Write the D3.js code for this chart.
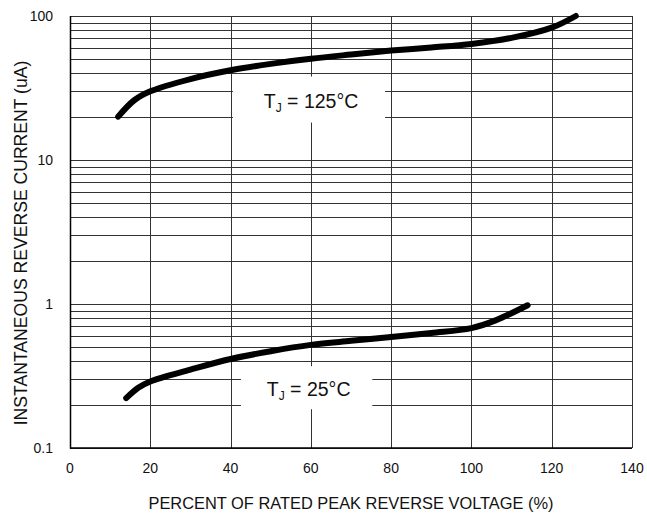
<!DOCTYPE html>
<html>
<head>
<meta charset="utf-8">
<script src="https://cdn.jsdelivr.net/npm/d3@7"></script>
<style>
  body { margin: 0; background: #fff; }
  svg { font-family: "Liberation Sans", Arial, sans-serif; }
</style>
</head>
<body>
<svg width="647" height="516"></svg>
<script>
// Reverse current vs percent of rated peak reverse voltage
const xTicks = [0, 20, 40, 60, 80, 100, 120, 140];
const yTicks = [0.1, 1, 10, 100];
const yTickLabels = ["0.1", "1", "10", "100"];

const pct125 = [12, 16, 20, 30, 40, 50, 60, 70, 80, 90, 100, 110, 120, 126];
const cur125 = [20, 26, 30, 36.5, 42, 46.5, 50.5, 54, 57.5, 60.5, 64, 70.5, 83, 100];

const pct25 = [14, 17, 20, 30, 40, 50, 60, 70, 80, 90, 100, 106, 114];
const cur25 = [0.222, 0.262, 0.29, 0.35, 0.415, 0.47, 0.52, 0.555, 0.59, 0.63, 0.68, 0.77, 0.98];

const svg = d3.select("svg");
const x = d3.scaleLinear().domain([0, 140]).range([70, 632]);
const y = d3.scaleLog().domain([0.1, 100]).range([448, 16]);

// grid lines
const minor = [];
[0.1, 1, 10].forEach((d) => {
  for (let k = 1; k <= 10; k++) minor.push(d * k);
});
const grid = svg.append("g");
grid
  .selectAll("line.h")
  .data(minor)
  .enter()
  .append("line")
  .attr("x1", x(0))
  .attr("x2", x(140))
  .attr("y1", (d) => Math.round(y(d)) + 0.5)
  .attr("y2", (d) => Math.round(y(d)) + 0.5)
  .attr("stroke", "#333")
  .attr("stroke-width", 1);
grid
  .selectAll("line.v")
  .data(xTicks)
  .enter()
  .append("line")
  .attr("x1", (d) => Math.round(x(d)) + 0.5)
  .attr("x2", (d) => Math.round(x(d)) + 0.5)
  .attr("y1", y(0.1))
  .attr("y2", y(100))
  .attr("stroke", "#333")
  .attr("stroke-width", 1);

// left and bottom frame
svg
  .append("path")
  .attr("d", `M${x(0) + 0.5},${y(100)}V${y(0.1)}H${x(140)}`)
  .attr("fill", "none")
  .attr("stroke", "#000")
  .attr("stroke-width", 1.5);

// curves
const line = d3
  .line()
  .x((d) => x(d[0]))
  .y((d) => y(d[1]))
  .curve(d3.curveCatmullRom.alpha(0.5));

const series = [d3.zip(pct125, cur125), d3.zip(pct25, cur25)];
svg
  .selectAll("path.curve")
  .data(series)
  .enter()
  .append("path")
  .attr("class", "curve")
  .attr("d", line)
  .attr("fill", "none")
  .attr("stroke", "#000")
  .attr("stroke-width", 6)
  .attr("stroke-linecap", "round")
  .attr("stroke-linejoin", "round");

// label boxes
const labels = [
  { x0: 40.6, x1: 78.5, y0: 38, y1: 18.2, temp: "125°C" },
  { x0: 42.6, x1: 75.3, y0: 0.37, y1: 0.186, temp: "25°C" },
];
labels.forEach((l) => {
  svg
    .append("rect")
    .attr("x", x(l.x0))
    .attr("y", y(l.y0))
    .attr("width", x(l.x1) - x(l.x0))
    .attr("height", y(l.y1) - y(l.y0))
    .attr("fill", "#fff");
  const t = svg
    .append("text")
    .attr("x", (x(l.x0) + x(l.x1)) / 2 + 2)
    .attr("y", (y(l.y0) + y(l.y1)) / 2 + 8)
    .attr("text-anchor", "middle")
    .attr("font-size", 19.5)
    .attr("fill", "#111");
  t.append("tspan").text("T");
  t.append("tspan").attr("font-size", 12).attr("dy", 4).text("J");
  t.append("tspan").attr("dy", -4).text(" = " + l.temp);
});

// tick labels
svg
  .selectAll("text.xt")
  .data(xTicks)
  .enter()
  .append("text")
  .attr("x", (d) => x(d))
  .attr("y", 473)
  .attr("text-anchor", "middle")
  .attr("font-size", 14)
  .attr("fill", "#111")
  .text((d) => d);

svg
  .selectAll("text.yt")
  .data(yTicks)
  .enter()
  .append("text")
  .attr("x", 53)
  .attr("y", (d) => y(d) + 5)
  .attr("text-anchor", "end")
  .attr("font-size", 14)
  .attr("fill", "#111")
  .text((d, i) => yTickLabels[i]);

// axis titles
svg
  .append("text")
  .attr("x", 351)
  .attr("y", 509)
  .attr("text-anchor", "middle")
  .attr("font-size", 16.4)
  .attr("fill", "#111")
  .text("PERCENT OF RATED PEAK REVERSE VOLTAGE (%)");

svg
  .append("text")
  .attr("transform", "translate(27, 243) rotate(-90)")
  .attr("text-anchor", "middle")
  .attr("font-size", 17.6)
  .attr("fill", "#111")
  .text("INSTANTANEOUS REVERSE CURRENT (uA)");
</script>
</body>
</html>
